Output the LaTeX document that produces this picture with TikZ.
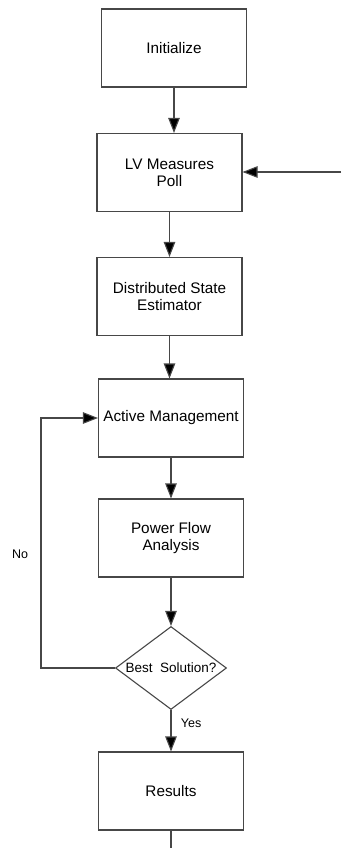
\documentclass[tikz,border=0pt]{standalone}
\usepackage{fontspec}
\setmainfont{Liberation Sans}
\usetikzlibrary{shapes.geometric,arrows.meta}
\definecolor{edgegray}{HTML}{474747}
\begin{document}
\begin{tikzpicture}[x=1pt,y=-1pt,
  every node/.style={text=black},
  procbox/.style={draw=edgegray,line width=1.1pt,rectangle,minimum width=145pt,
    minimum height=78pt,inner sep=0pt,align=center,
    font=\fontsize{15.3}{17}\selectfont},
  decision/.style={draw=edgegray,line width=1.1pt,diamond,minimum width=111pt,
    minimum height=83pt,inner sep=0pt},
  flow/.style={draw=edgegray,line width=1.1pt,
    -{Triangle[length=15pt,width=11.5pt,fill=black]}},
  plain/.style={draw=edgegray,line width=1.1pt},
  tag/.style={font=\fontsize{12.5}{15}\selectfont}]
\useasboundingbox (0,0) rectangle (341,848);

% process steps
\node[procbox] (init) at (174,48)    {Initialize};
\node[procbox] (poll) at (169.5,172.5) {LV Measures\\Poll};
\node[procbox] (dse)  at (169.5,296.5) {Distributed State\\Estimator};
\node[procbox] (am)   at (171,418)   {Active Management};
\node[procbox] (pfa)  at (171,538)   {Power Flow\\Analysis};
\node[decision,label={[font=\fontsize{13.5}{16}\selectfont]center:Best\ \ Solution?}]
  (dec) at (171,668) {};
\node[procbox] (res)  at (171,791)   {Results};

% free ends and loop corner
\coordinate (feed) at (341,172);
\coordinate (out)  at (171,848);
\coordinate (loop) at (41,668);

% main flow
\draw[flow] (init.south) -- (init.south |- poll.north);
\draw[flow] (poll.south) -- (poll.south |- dse.north);
\draw[flow] (dse.south)  -- (dse.south |- am.north);
\draw[flow] (am.south)   -- (pfa.north);
\draw[flow] (pfa.south)  -- (dec.north);
\draw[flow] (dec.south)  -- node[tag,right,pos=0.33,xshift=6pt] {Yes} (res.north);
\draw[plain] (res.south) -- (out);

% external input into the poll step
\draw[flow] (feed) -- (feed -| poll.east);

% retry loop
\draw[flow] (dec.west) -- (loop) |- (am.west);
\node[tag] (no) at (20,554) {No};
\end{tikzpicture}
\end{document}
